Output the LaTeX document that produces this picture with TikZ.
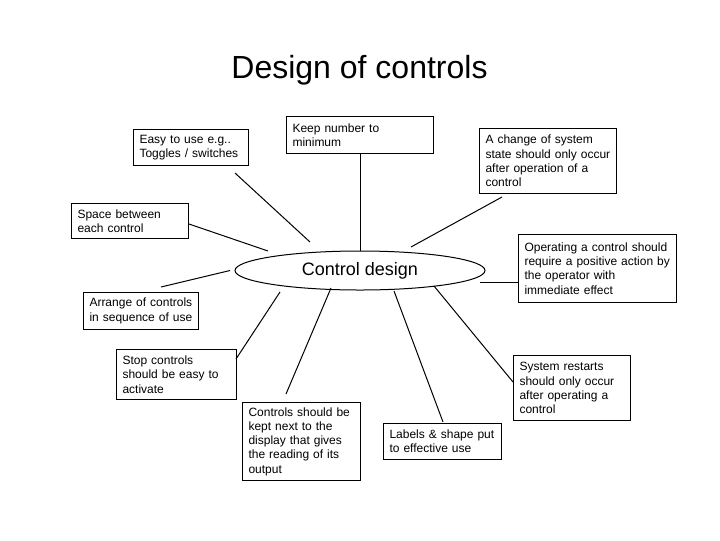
\documentclass[tikz,border=0pt]{standalone}
\usepackage{fontspec}
\setmainfont{Liberation Sans}
\usetikzlibrary{shapes.geometric}
\tikzset{
  box/.style n args={2}{draw, anchor=north west, align=left, inner xsep=4.5pt, inner ysep=0pt,
    text width=#1, minimum height=#2, font=\fontsize{9}{10.7}\selectfont},
  conn/.style={draw, line width=0.75pt},
}
\begin{document}
\begin{tikzpicture}[x=0.75pt, y=-0.75pt, line width=0.75pt]
\useasboundingbox (0,0) rectangle (720,540);
\node[font=\fontsize{24}{28}\selectfont, anchor=base] (title) at (359.5,78) {Design of controls};
\node[draw, ellipse, minimum width=187.5pt, minimum height=29.25pt, inner sep=0pt,
      font=\fontsize{13.5}{16}\selectfont] (cd) at (360,270.5) {Control design};

\node[box={77.25pt}{27pt}] (easy) at (133,129) {Easy to use e.g..\\Toggles / switches};
\node[box={101.25pt}{27.75pt}] (keep) at (286,116) {Keep number to\\minimum};
\node[box={93.75pt}{48.75pt}] (change) at (479,128) {A change of system\\state should only occur\\after operation of a\\control};
\node[box={78.75pt}{26.25pt}] (space) at (71,203) {Space between\\each control};
\node[box={109.5pt}{51pt}] (op) at (518,234) {Operating a control should\\require a positive action by\\the operator with\\immediate effect};
\node[box={77.25pt}{27.75pt}] (arrange) at (83,292) {Arrange of controls\\in sequence of use};
\node[box={81pt}{37.5pt}] (stop) at (116,349) {Stop controls\\should be easy to\\activate};
\node[box={79.5pt}{58.5pt}] (ctrl) at (242,402) {Controls should be\\kept next to the\\display that gives\\the reading of its\\output};
\node[box={79.5pt}{27pt}] (labels) at (383,423) {Labels \& shape put\\to effective use};
\node[box={78.75pt}{48.75pt}] (system) at (513,355) {System restarts\\should only occur\\after operating a\\control};

\coordinate (easyA) at (235,173);   \coordinate (easyB) at (310,242);
\coordinate (keepA) at (360,153);   \coordinate (keepB) at (360,251);
\coordinate (changeA) at (502,197); \coordinate (changeB) at (411,247);
\coordinate (spaceA) at (189,224);  \coordinate (spaceB) at (268,251);
\coordinate (arrA) at (161,287);    \coordinate (arrB) at (230,270.5);
\coordinate (opA) at (518,282);     \coordinate (opB) at (480,282);
\coordinate (stopA) at (236,359);   \coordinate (stopB) at (280,292);
\coordinate (ctrlA) at (286,394);   \coordinate (ctrlB) at (331,288);
\coordinate (labA) at (443,422);    \coordinate (labB) at (394,291);
\coordinate (sysA) at (513,382);    \coordinate (sysB) at (434,286);

\draw[conn] (easyA) -- (easyB);
\draw[conn] (keepA) -- (keepB);
\draw[conn] (changeA) -- (changeB);
\draw[conn] (spaceA) -- (spaceB);
\draw[conn] (arrA) -- (arrB);
\draw[conn] (opA) -- (opB);
\draw[conn] (stopA) -- (stopB);
\draw[conn] (ctrlA) -- (ctrlB);
\draw[conn] (labA) -- (labB);
\draw[conn] (sysA) -- (sysB);
\end{tikzpicture}
\end{document}
